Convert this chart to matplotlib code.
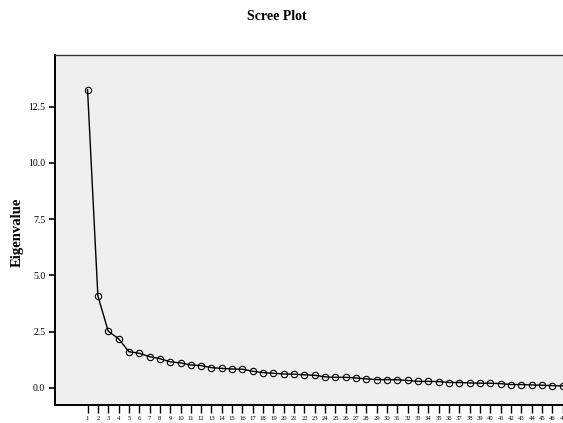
import matplotlib.pyplot as plt

plt.rcParams["font.family"] = ["Liberation Serif", "DejaVu Serif"]

components = list(range(1, 48))
eigenvalues = [
    13.26, 4.09, 2.52, 2.19, 1.61, 1.54, 1.39, 1.30, 1.16, 1.11,
    1.02, 0.99, 0.90, 0.87, 0.84, 0.83, 0.74, 0.68, 0.65, 0.62,
    0.61, 0.58, 0.56, 0.49, 0.47, 0.47, 0.44, 0.40, 0.37, 0.37,
    0.36, 0.33, 0.29, 0.29, 0.28, 0.24, 0.24, 0.22, 0.21, 0.21,
    0.19, 0.15, 0.15, 0.13, 0.12, 0.10, 0.09,
]
y_ticks = [0.0, 2.5, 5.0, 7.5, 10.0, 12.5]

W, H = 563, 423
fig = plt.figure(figsize=(W / 100, H / 100), dpi=100)

# plot area runs off the right edge of the figure
left, top, bottom = 55, 55, 405
x_lo, x_hi = -2.15, 49
px_per_unit = 10.33
width = (x_hi - x_lo) * px_per_unit
ax = fig.add_axes([left / W, (H - bottom) / H, width / W, (bottom - top) / H])
ax.set_facecolor("#efefef")

ax.plot(components, eigenvalues, color="black", lw=1.0,
        marker="o", ms=4.6, mfc="none", mec="black", mew=0.8)

ax.set_xlim(x_lo, x_hi)
ax.set_ylim(-0.76, 14.8)
ax.set_xticks(components)
ax.set_xticklabels([str(c) for c in components], fontsize=4.8)
ax.set_yticks(y_ticks)
ax.set_yticklabels([f"{v:.1f}" for v in y_ticks], fontsize=7)
ax.tick_params(axis="x", length=6, width=1.0, pad=2, color="black")
ax.tick_params(axis="y", length=4, width=1.2, pad=3, color="black")

for side in ("left", "bottom"):
    ax.spines[side].set_linewidth(1.4)
ax.spines["top"].set_linewidth(1.0)
ax.spines["top"].set_color("#333333")
ax.spines["right"].set_visible(False)

fig.text(277 / W, 1 - 16 / H, "Scree Plot", ha="center", va="center",
         fontsize=10, fontweight="bold")
fig.text(17 / W, 1 - 232 / H, "Eigenvalue", ha="center", va="center",
         rotation=90, fontsize=10.5, fontweight="bold")

fig.savefig("out.png", dpi=100)
